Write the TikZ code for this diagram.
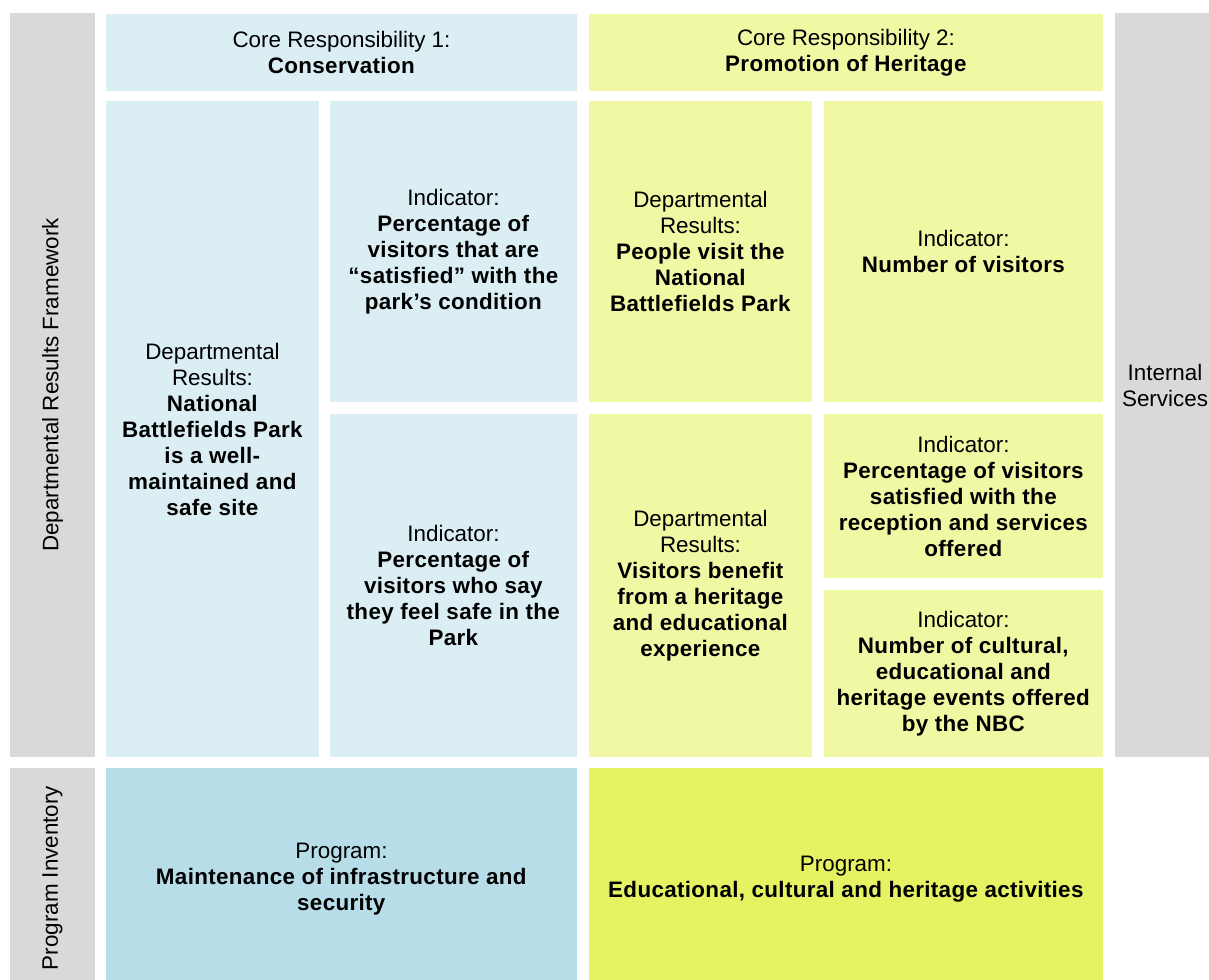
\documentclass[tikz,border=0pt]{standalone}
\usepackage{fontspec}
\setmainfont{Liberation Sans}[BoldFeatures={LetterSpace=1.5}]
\definecolor{lblue}{HTML}{DAEEF3}
\definecolor{pblue}{HTML}{B7DDE8}
\definecolor{lyel}{HTML}{F0F8A4}
\definecolor{pyel}{HTML}{E5F262}
\definecolor{sgray}{HTML}{D9D9D9}
\tikzset{
  cell/.style={rectangle, inner sep=0pt, outer sep=0pt, align=center, text=black,
    font=\fontsize{22.4}{26}\selectfont},
  bluecell/.style={cell, fill=lblue},
  yelcell/.style={cell, fill=lyel},
  graycell/.style={cell, fill=sgray},
}
\newcommand{\cellbox}[8]{%
  \node[#6, minimum width=#4pt-#2pt, minimum height=#5pt-#3pt] (#1) at ({(#2+#4)/2},{(#3+#5)/2}) {#7#8};}
\begin{document}
\begin{tikzpicture}[x=1pt,y=-1pt]
\useasboundingbox (0,0) rectangle (1209,979);
\fill[white] (0,0) rectangle (1209,979);
% side labels
\cellbox{drf}{10}{13}{95}{757}{graycell}{}{\rotatebox{90}{Departmental Results Framework}}
\cellbox{pinv}{10}{768}{95}{988}{graycell}{}{\rotatebox{90}{Program Inventory}}
\cellbox{intsvc}{1115}{13}{1215}{757}{graycell}{}{Internal\\Services}
% headers
\cellbox{cr1}{106}{14}{577}{91}{bluecell}{}{Core Responsibility 1:\\\textbf{Conservation}}
\cellbox{cr2}{589}{14}{1103}{91}{yelcell}{}{Core Responsibility 2:\\\textbf{Promotion of Heritage}}
% conservation
\cellbox{dr1}{106}{101}{319}{757}{bluecell}{}{Departmental\\Results:\\\textbf{National}\\\textbf{Battlefields Park}\\\textbf{is a well-}\\\textbf{maintained and}\\\textbf{safe site}}
\cellbox{ind1}{330}{101}{577}{402}{bluecell}{}{Indicator:\\\textbf{Percentage of}\\\textbf{visitors that are}\\\textbf{“satisfied” with the}\\\textbf{park’s condition}}
\cellbox{ind2}{330}{414}{577}{757}{bluecell}{}{Indicator:\\\textbf{Percentage of}\\\textbf{visitors who say}\\\textbf{they feel safe in the}\\\textbf{Park}}
% heritage
\cellbox{dr2}{589}{101}{812}{402}{yelcell}{}{Departmental\\Results:\\\textbf{People visit the}\\\textbf{National}\\\textbf{Battlefields Park}}
\cellbox{ind3}{824}{101}{1103}{402}{yelcell}{}{Indicator:\\\textbf{Number of visitors}}
\cellbox{dr3}{589}{414}{812}{757}{yelcell}{}{Departmental\\Results:\\\textbf{Visitors benefit}\\\textbf{from a heritage}\\\textbf{and educational}\\\textbf{experience}}
\cellbox{ind4}{824}{414}{1103}{578}{yelcell}{}{Indicator:\\\textbf{Percentage of visitors}\\\textbf{satisfied with the}\\\textbf{reception and services}\\\textbf{offered}}
\cellbox{ind5}{824}{590}{1103}{757}{yelcell}{}{Indicator:\\\textbf{Number of cultural,}\\\textbf{educational and}\\\textbf{heritage events offered}\\\textbf{by the NBC}}
% programs
\cellbox{prog1}{106}{768}{577}{990}{cell, fill=pblue}{}{Program:\\\textbf{Maintenance of infrastructure and}\\\textbf{security}}
\cellbox{prog2}{589}{768}{1103}{990}{cell, fill=pyel}{}{Program:\\\textbf{Educational, cultural and heritage activities}}
\end{tikzpicture}
\end{document}
